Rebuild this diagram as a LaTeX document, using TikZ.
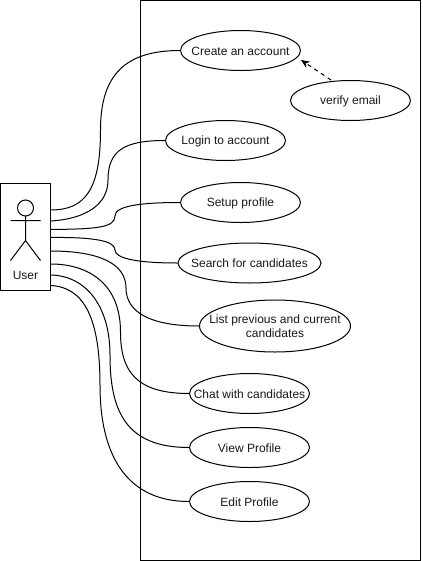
\documentclass[tikz,border=0pt]{standalone}
\usepackage{fontspec}
\setmainfont{Liberation Sans}
\usetikzlibrary{arrows.meta,shapes.geometric}
\begin{document}
\begin{tikzpicture}[x=0.75pt,y=-0.75pt,line width=0.75pt,
  usecase/.style={draw,ellipse,inner sep=0pt,fill=white},
  lbl/.style={font=\fontsize{9pt}{10.5pt}\selectfont,align=center,text=black!90},
  link/.style={draw,line width=0.75pt}]
\useasboundingbox (0,0) rectangle (422,561);
\node[draw,minimum width=280*0.75pt,minimum height=560*0.75pt,inner sep=0pt,anchor=north west] (system) at (140,0) {};
\node[draw,minimum width=50*0.75pt,minimum height=107*0.75pt,inner sep=0pt,anchor=north west] (user) at (0,183) {};
% actor
\draw (25.5,208) circle[radius=8];
\draw (25.5,216) -- (25.5,240.5) (10.5,220.5) -- (40.5,220.5) (10.5,260.5) -- (25.5,240.5) -- (40.5,260.5);
\node[lbl] (userlabel) at (25.5,275) {User};
% use cases
\newcommand{\ucase}[6]{\node[usecase,minimum width=#3*0.75pt,minimum height=#4*0.75pt,label={[lbl,yshift=-0.4pt]center:#6}] (#5) at (#1,#2) {};}
\ucase{240.5}{50.5}{120}{40}{create}{Create an account}
\ucase{350.5}{100.5}{120}{40}{verify}{verify email}
\ucase{225.5}{140.5}{120}{40}{login}{Login to account}
\ucase{240.5}{202.5}{120}{40}{setup}{Setup profile}
\ucase{249.5}{263}{143}{40}{search}{Search for candidates}
\ucase{275}{326}{151}{52}{list}{{List previous and current\\candidates}}
\ucase{249.5}{393.5}{120}{40}{chat}{Chat with candidates}
\ucase{249.5}{447.5}{120}{40}{view}{View Profile}
\ucase{249.5}{501.5}{120}{40}{edit}{Edit Profile}
% connector start points
\coordinate (u1) at (50.5,210);
\coordinate (u2) at (50.5,221);
\coordinate (u3) at (50.5,229.5);
\coordinate (u4) at (50.5,237.5);
\coordinate (u5) at (50.5,251);
\coordinate (u6) at (50.5,264);
\coordinate (u7) at (50.5,275);
\coordinate (u8) at (50.5,285.5);
\path[link] (u1) .. controls (85,210) and (100.5,190) .. (100.5,130) .. controls (100.5,75) and (125,50.5) .. (create.west);
\path[link] (u2) .. controls (85,219) and (108,205) .. (108,180) .. controls (108,150) and (125,140.5) .. (login.west);
\path[link] (u3) .. controls (95,229) and (115,228) .. (115,216) .. controls (115,206) and (140,202.5) .. (setup.west);
\path[link] (u4) .. controls (95,237) and (115,241) .. (115,250) .. controls (115,258) and (135,263) .. (search.west);
\path[link] (u5) .. controls (100,251) and (126,264) .. (126,288) .. controls (126,312) and (150,326) .. (list.west);
\path[link] (u6) .. controls (90,264) and (120.5,285) .. (120.5,332) .. controls (120.5,370) and (135,393.5) .. (chat.west);
\path[link] (u7) .. controls (85,275.5) and (110,305) .. (110,355) .. controls (110,410) and (125,447.5) .. (view.west);
\path[link] (u8) .. controls (85,287) and (100,320) .. (100,385) .. controls (100,460) and (130,501.5) .. (edit.west);
\coordinate (vstart) at (331,80);
\coordinate (vend) at (301,60);
\draw[dash pattern=on 3pt off 3pt,-{Stealth[length=6.5pt,width=5.5pt]}] (vstart) -- (vend);
\end{tikzpicture}
\end{document}
